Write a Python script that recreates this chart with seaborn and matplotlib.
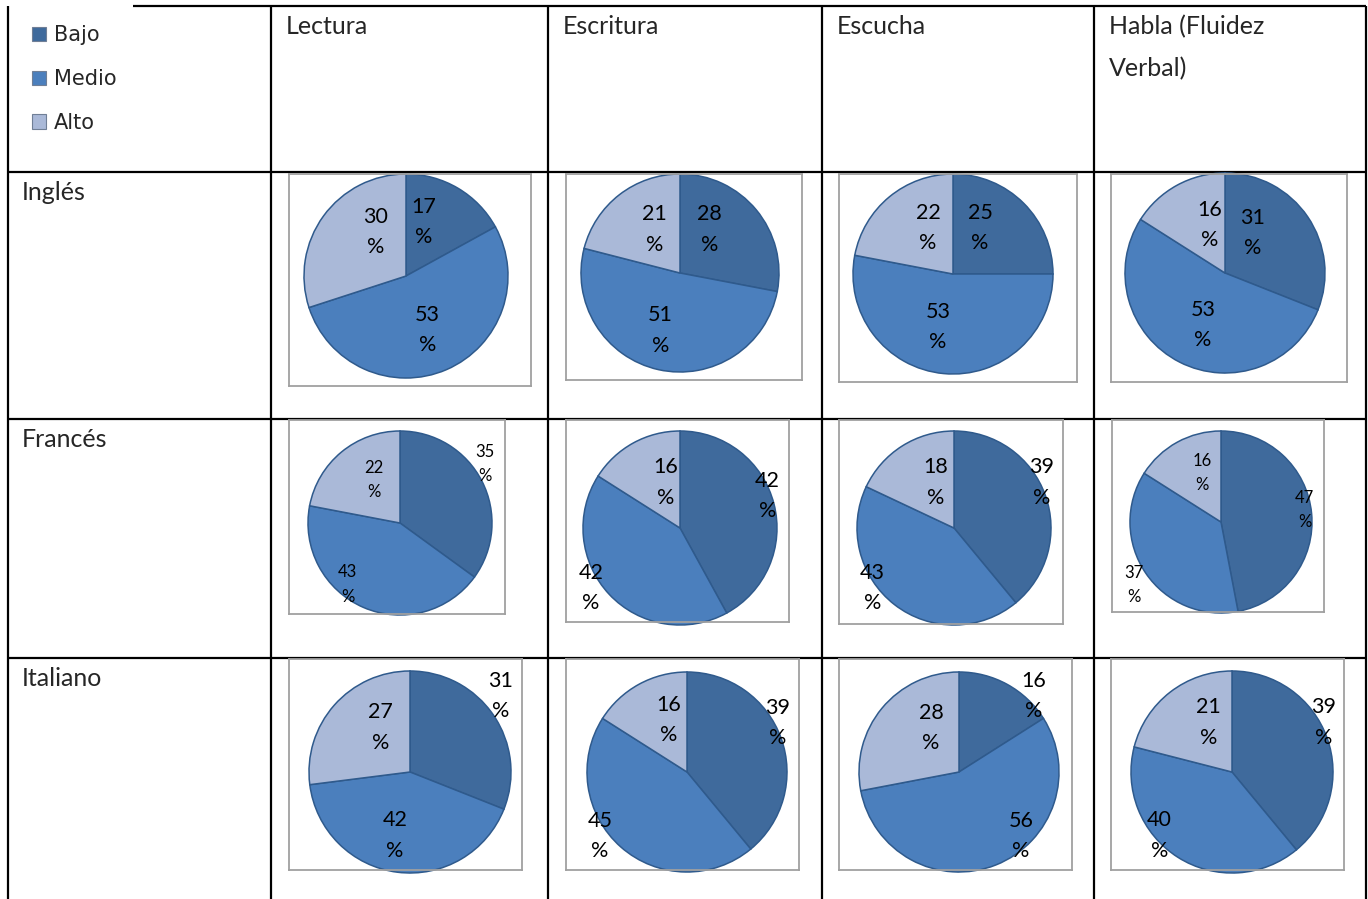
import matplotlib.pyplot as plt
import seaborn as sns
from matplotlib.patches import Patch

languages = ['Inglés', 'Francés', 'Italiano']
skills = ['Lectura', 'Escritura', 'Escucha', 'Habla (Fluidez\nVerbal)']
levels = ['Bajo', 'Medio', 'Alto']

# porcentaje por habilidad, en orden [Bajo, Medio, Alto]
ingles = [[17, 53, 30], [28, 51, 21], [25, 53, 22], [31, 53, 16]]
frances = [[35, 43, 22], [42, 42, 16], [39, 43, 18], [47, 37, 16]]
italiano = [[31, 42, 27], [39, 45, 16], [16, 56, 28], [39, 40, 21]]
values = [ingles, frances, italiano]

sns.set_style('white')
plt.rcParams['font.family'] = ['Lato', 'DejaVu Sans']
colors = sns.color_palette(['#3F6A9C', '#4B7FBD', '#AAB9D8'])
edge = '#2F5A8C'

W, H = 1368, 899
fig = plt.figure(figsize=(W / 100, H / 100), dpi=100)

# fondo: la tabla en pixeles
bg = fig.add_axes([0, 0, 1, 1])
bg.set_xlim(0, W)
bg.set_ylim(H, 0)
bg.axis('off')

col_x = [8, 271, 548, 822, 1094, 1366]
row_y = [6, 172, 419, 658]
bg.vlines(col_x, 6, H, color='black', lw=1.6)
bg.hlines(row_y[0], 133, col_x[-1], color='black', lw=1.6)
bg.hlines(row_y[1:], col_x[0], col_x[-1], color='black', lw=1.6)

for j, s in enumerate(skills):
    bg.text(col_x[j + 1] + 15, 15.5, s, fontsize=18, va='top', ha='left',
            linespacing=1.95)
for i, lang in enumerate(languages):
    bg.text(22, row_y[i + 1] + 28, lang, fontsize=18, va='baseline', ha='left')

# marco del grafico (x0, x1, y0, y1), centro y radio en pixeles
frames = [
    [(289, 531, 174, 386, 406, 276, 102), (566, 802, 174, 380, 680, 273, 99),
     (839, 1077, 174, 382, 953, 274, 100), (1111, 1347, 174, 382, 1225, 273, 100)],
    [(289, 505, 420, 614, 400, 523, 92), (566, 789, 420, 622, 680, 528, 97),
     (839, 1063, 420, 624, 954, 528, 97), (1112, 1324, 420, 612, 1221, 522, 91)],
    [(289, 522, 659, 870, 410, 772, 101), (566, 799, 659, 870, 687, 772, 100),
     (839, 1072, 659, 870, 959, 772, 100), (1111, 1344, 659, 870, 1232, 772, 101)],
]
# posicion de etiquetas en radios (Bajo, Medio, Alto)
label_pos = [
    [[(0.17, 0.53), (0.21, -0.53), (-0.30, 0.43)],
     [(0.30, 0.44), (-0.20, -0.58), (-0.26, 0.44)],
     [(0.27, 0.46), (-0.15, -0.53), (-0.25, 0.46)],
     [(0.28, 0.40), (-0.22, -0.52), (-0.15, 0.48)]],
    [[(0.92, 0.64), (-0.57, -0.67), (-0.28, 0.47)],
     [(0.90, 0.33), (-0.92, -0.62), (-0.15, 0.47)],
     [(0.90, 0.47), (-0.84, -0.62), (-0.19, 0.47)],
     [(0.92, 0.13), (-0.96, -0.69), (-0.21, 0.54)]],
    [[(0.90, 0.75), (-0.15, -0.63), (-0.29, 0.44)],
     [(0.91, 0.49), (-0.87, -0.64), (-0.18, 0.52)],
     [(0.75, 0.76), (0.62, -0.64), (-0.28, 0.44)],
     [(0.91, 0.49), (-0.72, -0.63), (-0.23, 0.49)]],
]
small = {(1, 0), (1, 3)}

for i in range(3):
    for j in range(4):
        x0, x1, y0, y1, cx, cy, r = frames[i][j]
        ax = fig.add_axes([x0 / W, 1 - y1 / H, (x1 - x0) / W, (y1 - y0) / H])
        ax.pie(values[i][j], colors=colors, startangle=90, counterclock=False,
               wedgeprops=dict(edgecolor=edge, linewidth=1.1))
        ax.set_aspect('auto')
        ax.set_xlim((x0 - cx) / r, (x1 - cx) / r)
        ax.set_ylim((cy - y1) / r, (cy - y0) / r)
        ax.set_frame_on(True)
        ax.set_xticks([])
        ax.set_yticks([])
        for sp in ax.spines.values():
            sp.set_color('#A0A0A0')
            sp.set_linewidth(1.3)
        fs = 12 if (i, j) in small else 15.5
        for v, (lx, ly) in zip(values[i][j], label_pos[i][j]):
            ax.text(lx, ly, f'{v}\n%', ha='center', va='center', fontsize=fs,
                    linespacing=1.65, color='black')

handles = [Patch(facecolor=c, edgecolor='#707F96', linewidth=0.8) for c in colors]
fig.legend(handles, levels, loc='upper left',
           bbox_to_anchor=(32 / W, 1 - 25 / H), frameon=False,
           prop={'family': 'DejaVu Sans', 'size': 15},
           handlelength=0.68, handleheight=0.68, handletextpad=0.38,
           labelspacing=1.15, borderpad=0, borderaxespad=0)

fig.savefig('out.png', dpi=100)
